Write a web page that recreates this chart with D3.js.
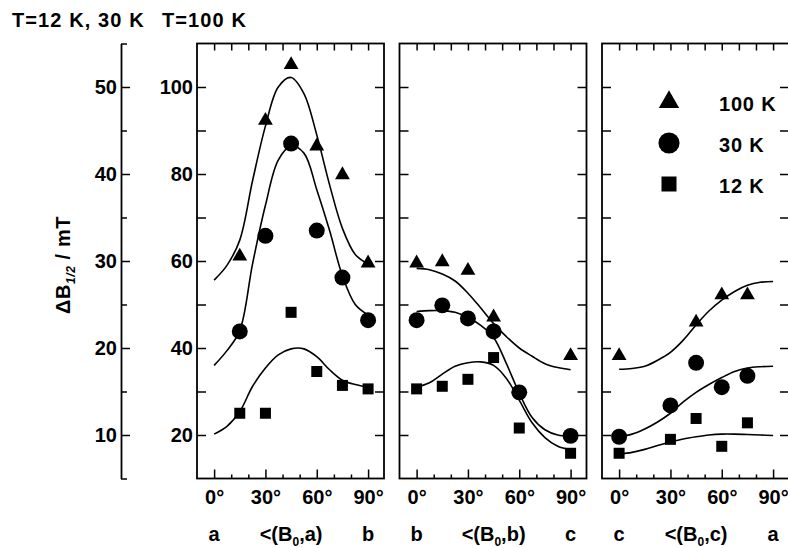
<!DOCTYPE html>
<html>
<head>
<meta charset="utf-8">
<script src="https://cdn.jsdelivr.net/npm/d3@7"></script>
<style>
    body { margin: 0; background: #fff; }
    svg { display: block; font-family: "Liberation Sans", Arial, Helvetica, sans-serif; font-weight: bold; }
</style>
</head>
<body>
<script>

const fitAngles = [0, 7.5, 15, 22.5, 30, 37.5, 45, 52.5, 60, 67.5, 75, 82.5, 90];

// panel <(B0,a) : measured points [angle, linewidth]
const a_100K = [[15, 61.1], [30, 92.3], [45, 105.1], [60, 86.4], [75, 79.8], [90, 59.5]];
const a_30K = [[15, 21.9], [30, 32.9], [45, 43.5], [60, 33.5], [75, 28.1], [90, 23.2]];
const a_12K = [[15, 12.5], [30, 12.5], [45, 24.1], [60, 17.3], [75, 15.7], [90, 15.3]];
const a_fit100K = [55.6, 59.0, 64.8, 78.5, 91.0, 100.0, 102.2, 98.5, 89.0, 77.5, 67.5, 61.5, 59.3];
const a_fit30K = [18.0, 19.7, 22.0, 29.7, 36.4, 41.6, 43.2, 42.4, 38.2, 33.5, 28.3, 25.0, 23.8];
const a_fit12K = [10.1, 11.0, 12.7, 15.6, 17.7, 19.2, 19.9, 19.9, 19.0, 17.5, 16.3, 15.8, 15.5];

// panel <(B0,b)
const b_100K = [[0, 59.5], [15, 59.8], [30, 57.8], [45, 47.1], [90, 38.2]];
const b_30K = [[0, 23.2], [15, 24.9], [30, 23.4], [45, 21.9], [60, 14.9], [90, 9.9]];
const b_12K = [[0, 15.3], [15, 15.6], [30, 16.4], [45, 18.9], [60, 10.8], [90, 7.9]];
const b_fit100K = [58.3, 58.0, 57.0, 55.4, 52.6, 49.2, 45.6, 42.6, 40.0, 38.1, 36.4, 35.5, 35.0];
const b_fit30K = [24.2, 24.3, 24.3, 24.1, 23.5, 22.6, 21.2, 18.2, 14.8, 12.0, 10.6, 10.0, 9.9];
const b_fit12K = [15.5, 16.0, 17.0, 17.9, 18.3, 18.4, 18.0, 16.5, 14.0, 11.4, 9.7, 8.7, 8.3];

// panel <(B0,c)
const c_100K = [[0, 38.2], [45, 45.9], [60, 52.2], [75, 52.2]];
const c_30K = [[0, 9.8], [30, 13.4], [45, 18.3], [60, 15.5], [75, 16.8]];
const c_12K = [[0, 7.9], [30, 9.5], [45, 11.9], [60, 8.7], [75, 11.4]];
const c_fit100K = [35.1, 35.3, 35.8, 37.2, 39.0, 41.8, 45.3, 48.5, 51.0, 53.0, 54.4, 55.1, 55.3];
const c_fit30K = [9.8, 10.1, 10.7, 11.5, 12.5, 13.8, 14.9, 15.8, 16.6, 17.3, 17.7, 17.85, 17.9];
const c_fit12K = [7.8, 8.0, 8.35, 8.8, 9.2, 9.55, 9.8, 10.0, 10.1, 10.1, 10.05, 10.0, 9.95];

// axis texts
const angleTicks = [0, 30, 60, 90];
const panelAxes = [["a", "a", "b"], ["b", "b", "c"], ["c", "c", "a"]];
const leftTicks = [10, 20, 30, 40, 50];
const rightTicks = [20, 40, 60, 80, 100];
const legendLabels = ["100 K", "30 K", "12 K"];


// dimensions
let width = 788, height = 548;
let yTop = 43.5, yBottom = 478.5;
let panelW = 187, panelX0 = 197, panelStep = 202.5;

let svg = d3.select("body")
    .append("svg")
    .attr("width", width)
    .attr("height", height)

// scales : 12 K / 30 K on the outer axis, 100 K on the inner one (factor 2)
let yLeft = d3.scaleLinear().domain([5, 55]).range([yBottom, yTop]);
let yRight = d3.scaleLinear().domain([10, 110]).range([yBottom, yTop]);
let x = d3.scaleLinear().domain([-10, 99.3]).range([0, panelW]);

function styleAxis(g, size) {
    g.attr("font-size", size)
        .attr("font-family", null)
        .attr("font-weight", "bold")
    g.selectAll("line").attr("stroke-width", 1.5)
    g.selectAll(".domain").attr("stroke-width", 1.8)
}

// titles
svg.append("text").attr("x", 12).attr("y", 27).attr("font-size", 20).attr("letter-spacing", 1.1).text("T=12 K, 30 K")
svg.append("text").attr("x", 162).attr("y", 27).attr("font-size", 20).attr("letter-spacing", 1.1).text("T=100 K")

// outer axis (12 K, 30 K)
let leftAxis = svg.append("g")
    .attr("transform", "translate(121,0)")
    .call(d3.axisLeft(yLeft).tickValues(leftTicks).tickSize(-9).tickSizeOuter(0).tickPadding(4))
styleAxis(leftAxis, 20)
let leftMinor = svg.append("g")
    .attr("transform", "translate(121,0)")
    .call(d3.axisLeft(yLeft).tickValues([5, 15, 25, 35, 45, 55]).tickSize(-6).tickFormat(""))
leftMinor.select(".domain").remove()
styleAxis(leftMinor, 20)

// y label
let ylab = svg.append("text")
    .attr("transform", "translate(70,265) rotate(-90)")
    .attr("text-anchor", "middle")
    .attr("font-size", 20)
    .attr("letter-spacing", 0.6)
ylab.append("tspan").text("ΔB")
ylab.append("tspan").attr("font-size", 12).attr("font-style", "italic").attr("dy", 5).text("1/2")
ylab.append("tspan").attr("dy", -5).text(" / mT")

let line = (yScale) => d3.line()
    .x(d => x(d[0]))
    .y(d => yScale(d[1]))
    .curve(d3.curveCatmullRom.alpha(0.5))

let panels = [
    { pts: [a_100K, a_30K, a_12K], fits: [a_fit100K, a_fit30K, a_fit12K] },
    { pts: [b_100K, b_30K, b_12K], fits: [b_fit100K, b_fit30K, b_fit12K] },
    { pts: [c_100K, c_30K, c_12K], fits: [c_fit100K, c_fit30K, c_fit12K] }
]

let symbols = [d3.symbolTriangle, d3.symbolCircle, d3.symbolSquare]
let symbolSize = [95, 200, 121]
let scales = [yRight, yLeft, yLeft]

panels.forEach((p, i) => {
    let g = svg.append("g").attr("transform", "translate(" + (panelX0 + i * panelStep) + ",0)")

    // ticks on the four sides
    let ax = g.append("g").attr("transform", "translate(0," + yBottom + ")")
        .call(d3.axisTop(x).tickValues(angleTicks).tickSize(9).tickFormat(""))
    let axm = g.append("g").attr("transform", "translate(0," + yBottom + ")")
        .call(d3.axisTop(x).tickValues([10, 20, 40, 50, 70, 80]).tickSize(4).tickFormat(""))
    let axt = g.append("g").attr("transform", "translate(0," + yTop + ")")
        .call(d3.axisBottom(x).tickValues(d3.range(0, 91, 10)).tickSize(7).tickFormat(""))
    let ayl = g.append("g")
        .call(d3.axisLeft(yRight).tickValues(d3.range(20, 101, 10)).tickSize(-9)
            .tickFormat(d => (i === 0 && rightTicks.includes(d)) ? d : "").tickPadding(4))
    let ayr = g.append("g").attr("transform", "translate(" + panelW + ",0)")
        .call(d3.axisRight(yRight).tickValues(d3.range(20, 101, 10)).tickSize(-9).tickFormat(""))
    ;[ax, axm, axt, ayl, ayr].forEach(a => { a.select(".domain").remove(); styleAxis(a, 20) })

    g.append("rect")
        .attr("x", 0).attr("y", yTop)
        .attr("width", panelW).attr("height", yBottom - yTop)
        .attr("fill", "none").attr("stroke", "#000").attr("stroke-width", 1.8)

    // angle labels
    let lab = g.append("g").attr("transform", "translate(0," + yBottom + ")")
        .call(d3.axisBottom(x).tickValues(angleTicks).tickFormat(d => d + "°").tickSize(0).tickPadding(11))
    lab.select(".domain").remove()
    styleAxis(lab, 20)

    g.append("text").attr("x", x(0)).attr("y", 541).attr("text-anchor", "middle").attr("font-size", 20).text(panelAxes[i][0])
    g.append("text").attr("x", x(90)).attr("y", 541).attr("text-anchor", "middle").attr("font-size", 20).text(panelAxes[i][2])
    let ang = g.append("text").attr("x", x(45)).attr("y", 541).attr("text-anchor", "middle").attr("font-size", 20)
    ang.append("tspan").text("<(B")
    ang.append("tspan").attr("font-size", 12).attr("dy", 5).text("0")
    ang.append("tspan").attr("dy", -5).text("," + panelAxes[i][1] + ")")

    // fitted curves
    p.fits.forEach((f, k) => {
        g.append("path")
            .datum(fitAngles.map((a, j) => [a, f[j]]))
            .attr("d", line(scales[k]))
            .attr("fill", "none")
            .attr("stroke", "#000")
            .attr("stroke-width", 1.6)
    })

    // measured points
    p.pts.forEach((s, k) => {
        g.selectAll(".pt" + k)
            .data(s)
            .enter().append("path")
            .attr("class", "pt" + k)
            .attr("d", d3.symbol().type(symbols[k]).size(symbolSize[k]))
            .attr("transform", d => "translate(" + x(d[0]) + "," + scales[k](d[1]) + ")")
            .attr("fill", "#000")
    })

    // legend in the last panel
    if (i === 2) {
        let legend = g.selectAll(".legend")
            .data(legendLabels)
            .enter().append("g")
            .attr("class", "legend")
            .attr("transform", (d, k) => "translate(67," + (102 + k * 41) + ")")
        legend.append("path")
            .attr("d", (d, k) => d3.symbol().type(symbols[k]).size([180, 350, 225][k])())
            .attr("fill", "#000")
        legend.append("text")
            .attr("x", 50).attr("y", 9)
            .attr("font-size", 20)
            .attr("letter-spacing", 0.8)
            .text(d => d)
    }
})

</script>
</body>
</html>
